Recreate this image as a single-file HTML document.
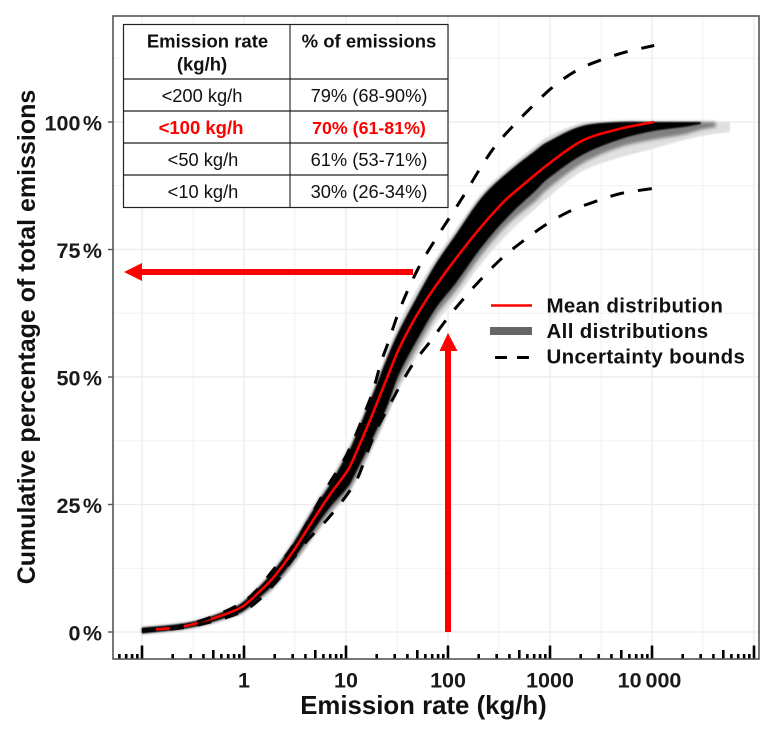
<!DOCTYPE html>
<html lang="en">
<head>
<meta charset="utf-8">
<title>Cumulative percentage of total emissions</title>
<style>
html,body{margin:0;padding:0;background:#fff;width:771px;height:736px;overflow:hidden}
svg{display:block;font-family:"Liberation Sans",sans-serif}
</style>
</head>
<body>
<svg id="chart" width="771" height="736" viewBox="0 0 771 736" xmlns="http://www.w3.org/2000/svg">
<defs>
<filter id="soft" x="-5%" y="-5%" width="110%" height="110%"><feGaussianBlur stdDeviation="0.9"/></filter>
<filter id="soft2" x="-5%" y="-5%" width="110%" height="110%"><feGaussianBlur stdDeviation="1.6"/></filter>
<clipPath id="panel-clip"><rect x="113" y="16" width="646" height="643"/></clipPath>
</defs>
<rect x="0" y="0" width="771" height="736" fill="#fff"/>
<g id="grid"></g>
<g id="marks" clip-path="url(#panel-clip)"></g>
<g id="ticks"></g>
<rect x="113" y="16" width="646" height="643" fill="none" stroke="#555" stroke-width="1.6"/>
<g id="labels" font-weight="700" fill="#1a1a1a"></g>
<text x="423.500" y="714" text-anchor="middle" font-size="25.800" font-weight="700" fill="#111">Emission rate (kg/h)</text>
<text transform="translate(35,337) rotate(-90)" text-anchor="middle" font-size="25" font-weight="700" fill="#111">Cumulative percentage of total emissions</text>

<g fill="#f00">
<rect x="141" y="269" width="272" height="6"/>
<polygon points="124,272 142,263 142,281"/>
</g>
<g fill="#f00">
<rect x="445" y="351" width="6" height="281"/>
<polygon points="448,333 439.5,351 457.5,351"/>
</g>

<g>
<rect x="123.5" y="24.5" width="324.500" height="183" fill="#fff" stroke="#222" stroke-width="1.2"/>
<line x1="290" y1="24.5" x2="290" y2="207.500" stroke="#333" stroke-width="1.2"/>
<line x1="123.5" y1="79" x2="448" y2="79" stroke="#222" stroke-width="1.2"/>
<line x1="123.5" y1="111" x2="448" y2="111" stroke="#222" stroke-width="1.2"/>
<line x1="123.5" y1="143" x2="448" y2="143" stroke="#222" stroke-width="1.2"/>
<line x1="123.5" y1="175" x2="448" y2="175" stroke="#222" stroke-width="1.2"/>
<g font-size="18.300" text-anchor="middle" fill="#111">
<text x="207.500" y="47.500" font-weight="700" font-size="18.500">Emission rate</text>
<text x="202" y="70.500" font-weight="700" font-size="18.500">(kg/h)</text>
<text x="369" y="47.500" font-weight="700" font-size="18.500">% of emissions</text>
<text x="202" y="102">&lt;200 kg/h</text>
<text x="369" y="102">79% (68-90%)</text>
<text x="201" y="134" font-weight="700" fill="#f00" font-size="18.500">&lt;100 kg/h</text>
<text x="369" y="134" font-weight="700" fill="#f00" font-size="17.800">70% (61-81%)</text>
<text x="203" y="166">&lt;50 kg/h</text>
<text x="369" y="166">61% (53-71%)</text>
<text x="203" y="198">&lt;10 kg/h</text>
<text x="369" y="198">30% (26-34%)</text>
</g>
</g>

<g>
<line x1="491" y1="305.500" x2="532" y2="305.500" stroke="#f00" stroke-width="2.500"/>
<rect x="490" y="327" width="42" height="8" fill="#666"/>
<line x1="495" y1="357.500" x2="529" y2="357.500" stroke="#000" stroke-width="3" stroke-dasharray="12 10"/>
<g font-size="20.500" font-weight="700" fill="#111" letter-spacing=".35">
<text x="546.500" y="312.500">Mean distribution</text>
<text x="546.500" y="338">All distributions</text>
<text x="546.500" y="363.500">Uncertainty bounds</text>
</g>
</g>
</svg>
<script>
// Emission rate (kg/h) samples and cumulative % for each series
const meanRates = [0.1,0.2,0.3,0.5,0.7,1,1.5,2,3,5,7,10,11.6,17,25,33,49,76,172,338,497,973,2050,4700,10500];
const meanValues = [0.3,0.8,1.4,2.7,3.7,5.2,8.4,11,15.7,22.6,27,31.2,33.6,41.3,49.6,55.5,62,67.9,77.3,84,87,91.8,96.3,98.6,100];

const upperRates = [0.1,0.3,1,2,2.7,3.7,4.9,6.9,9.3,12.1,16,18.4,22,26,32.5,42,55,76.5,108,150,211,296,443,620,1042,1786,3000,5500,10500];
const upperValues = [0.4,1.6,6,12.5,15.5,19.6,24,29.2,33.3,38,44,47.3,52.8,56.8,62.5,67.8,72.5,77.2,81.8,86.3,91.2,95.5,99.4,102.4,106.7,110,112,113.7,115];

const lowerRates = [0.1,0.3,1,2,2.8,4.2,6.5,9.7,13,16.2,20.3,26,35,47,69,96,144,216,338,530,870,1520,2680,5000,10500];
const lowerValues = [0.2,1.1,4.2,9.5,13.5,18,22,26.3,30.2,35.3,40,44,48.8,53,57.3,61.2,65.5,69.4,73.3,76.5,79.6,82.4,84.3,86,87];

const bandRates = [0.1,0.3,0.7,1,1.5,2,3,5,7,10,11.6,17,25,33,49,76,120,214,390,720,970,2050,4700,10000,20000,30000,42000,58000];
const coreTop = [0.8,1.9,4.3,6,9.4,12.2,17.2,24.6,29,34.5,37,45,53.5,59,65.5,72.2,78,85.2,90.2,94.4,96.2,99.2,100,100,100,100,100,100];
const coreBottom = [-0.3,0.9,3,4.2,7.2,9.6,14,20.5,24.5,28,30,36.7,44,50.5,57,63.5,68.5,75.5,81.5,86.5,89,93.5,96.5,98.2,99,99.6,99.8,99.9];
const haloBottom = [-0.3,0.8,2.8,4,6.8,9,13.3,19.5,23.5,27,29,35.5,43,49,55.5,62,67,74,80,84.5,87,91.8,95,96.5,97.5,98.5,99,99.3];
const fringeTop = [1,2,4.5,6.3,9.8,12.8,18,25.5,30,35.5,38,46,54.5,60.5,67,73.3,79,86,91,95.3,97.2,99.8,100,100,100,100,100,100];
const fringeBottom = [-0.3,0.7,2.6,3.8,6.5,8.8,13,19,23,26.5,28.5,35,42,47.5,54,60.5,65.5,72.3,78.2,83,85.3,90.3,93,94.7,96.4,97.2,97.7,98];

const majorRates = [0.1,1,10,100,1000,10000,100000];
const xTickLabels = ["1","10","100","1000","10 000"];
const xTickLabelRates = [1,10,100,1000,10000];
const yTicks = [0,25,50,75,100];
const yTickLabels = ["0 %","25 %","50 %","75 %","100 %"];
const yMinorGrid = [12.5,37.5,62.5,87.5,112.5];
const minorMultipliers = [2,3,4,5,6,7,8,9];

const svgNS = "http://www.w3.org/2000/svg";
function xScale(rate){ return 244 + 102 * Math.log10(rate); }
function yScale(pct){ return 632 - 5.1 * pct; }
function make(tag, attrs, parent){
  const el = document.createElementNS(svgNS, tag);
  for (const k in attrs) el.setAttribute(k, attrs[k]);
  parent.appendChild(el);
  return el;
}
function splinePath(rates, values){
  const p = rates.map((r,i)=>[xScale(r), yScale(values[i])]);
  let d = "M" + p[0][0].toFixed(1) + " " + p[0][1].toFixed(1);
  for (let i=0;i<p.length-1;i++){
    const a=p[Math.max(i-1,0)], b=p[i], c=p[i+1], e=p[Math.min(i+2,p.length-1)];
    const c1x=b[0]+(c[0]-a[0])/6, c1y=b[1]+(c[1]-a[1])/6, c2x=c[0]-(e[0]-b[0])/6, c2y=c[1]-(e[1]-b[1])/6;
    d += "C"+c1x.toFixed(1)+" "+c1y.toFixed(1)+" "+c2x.toFixed(1)+" "+c2y.toFixed(1)+" "+c[0].toFixed(1)+" "+c[1].toFixed(1);
  }
  return d;
}
function bandPath(rates, top, bottom){
  const back = splinePath(rates.slice().reverse(), bottom.slice(0,rates.length).reverse());
  return splinePath(rates, top) + "L" + back.slice(1) + "Z";
}

const grid = document.getElementById("grid");
majorRates.forEach(function(rate){
  const gx = make("line",{x1:xScale(rate),x2:xScale(rate),y1:16,y2:659,stroke:"#ebebeb","stroke-width":1.3},grid);
  
  
  if (rate < 100000){
    const gm = make("line",{x1:xScale(rate*Math.sqrt(10)),x2:xScale(rate*Math.sqrt(10)),y1:16,y2:659,stroke:"#f1f1f1","stroke-width":1},grid);
    
    
  }
});
yTicks.forEach(function(v){
  const gy = make("line",{x1:113,x2:759,y1:yScale(v),y2:yScale(v),stroke:"#ebebeb","stroke-width":1.3},grid);
  
  
});
yMinorGrid.forEach(function(v){
  const gy = make("line",{x1:113,x2:759,y1:yScale(v),y2:yScale(v),stroke:"#f1f1f1","stroke-width":1},grid);
  
  
});

const marks = document.getElementById("marks");
const fringe = make("path",{d:bandPath(bandRates,fringeTop,fringeBottom),fill:"#e0e0e0",filter:"url(#soft)"},marks);


const haloEnd = bandRates.indexOf(42000) + 1;
const halo = make("path",{d:bandPath(bandRates.slice(0,haloEnd),coreTop,haloBottom),fill:"#808080",filter:"url(#soft2)"},marks);


const coreEnd = bandRates.indexOf(30000) + 1;
const core = make("path",{d:bandPath(bandRates.slice(0,coreEnd),coreTop,coreBottom),fill:"#000",filter:"url(#soft)"},marks);


const meanLine = make("path",{d:splinePath(meanRates,meanValues),fill:"none",stroke:"#f00","stroke-width":2.6,"stroke-linejoin":"round"},marks);


const upperLine = make("path",{d:splinePath(upperRates,upperValues),fill:"none",stroke:"#000","stroke-width":3,"stroke-dasharray":"14 14"},marks);


const lowerLine = make("path",{d:splinePath(lowerRates,lowerValues),fill:"none",stroke:"#000","stroke-width":3,"stroke-dasharray":"14 14"},marks);



const ticks = document.getElementById("ticks");
majorRates.forEach(function(rate){
  const t = make("line",{x1:xScale(rate),x2:xScale(rate),y1:645.5,y2:659,stroke:"#000","stroke-width":2.6},ticks);
  
  
});
[0.01].concat(majorRates.slice(0,-1)).forEach(function(decade){
  minorMultipliers.forEach(function(m){
    const rate = decade*m;
    if (xScale(rate) < 116) return;
    const t = make("line",{x1:xScale(rate),x2:xScale(rate),y1:m===5?650:654,y2:659,stroke:"#000","stroke-width":2.6},ticks);
    
    
  });
});
yTicks.forEach(function(v){
  const t = make("line",{x1:108,x2:113,y1:yScale(v),y2:yScale(v),stroke:"#555","stroke-width":1.4},ticks);
  
  
});

const labels = document.getElementById("labels");
xTickLabels.forEach(function(txt,i){
  const t = make("text",{x:xScale(xTickLabelRates[i])-(i===4?2.5:0),y:687.5,"text-anchor":"middle","font-size":21.5,"word-spacing":-2},labels);
  t.textContent = txt;
  
  
});
yTickLabels.forEach(function(txt,i){
  const t = make("text",{x:102,y:yScale(yTicks[i])+8.5,"text-anchor":"end","font-size":21.5,"word-spacing":-3.5},labels);
  t.textContent = txt;
  
  
});
</script>
</body>
</html>
